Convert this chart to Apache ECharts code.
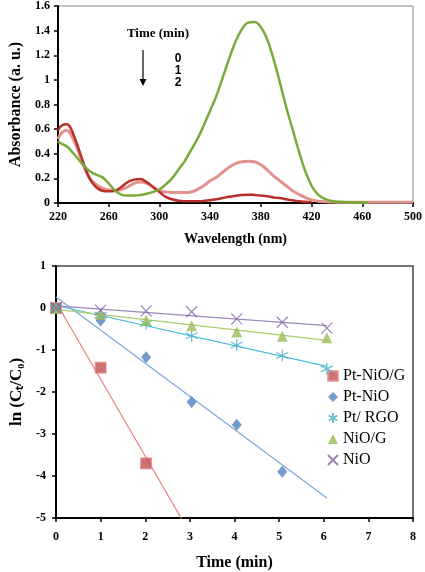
<!DOCTYPE html>
<html><head><meta charset="utf-8">
<script src="https://cdn.jsdelivr.net/npm/echarts@6/dist/echarts.min.js"></script>
<style>html,body{margin:0;padding:0;background:#fff}#c{width:425px;height:572px}</style>
</head><body><div id="c"></div>
<script>
// ---- Top panel: UV-vis spectra ----
const wavelengths = [220,223,227,230,235,240,245,250,255,260,265,270,275,280,285,290,295,300,305,310,315,320,325,330,335,340,345,350,355,360,365,370,375,380,385,390,395,400,405,410,415,420,425,430,435,440,450,465,480,500];
const abs0min = [0.50,0.48,0.46,0.43,0.37,0.31,0.26,0.23,0.21,0.16,0.10,0.068,0.06,0.06,0.065,0.075,0.09,0.11,0.15,0.20,0.27,0.34,0.43,0.52,0.63,0.75,0.87,1.02,1.17,1.31,1.41,1.465,1.47,1.43,1.33,1.17,0.98,0.78,0.60,0.42,0.26,0.14,0.07,0.035,0.018,0.01,0.006,0.005,null,null];
const abs1min = [0.52,0.57,0.59,0.56,0.45,0.31,0.20,0.15,0.12,0.105,0.10,0.11,0.13,0.16,0.17,0.16,0.13,0.10,0.09,0.085,0.085,0.085,0.09,0.11,0.14,0.18,0.21,0.25,0.29,0.32,0.335,0.34,0.335,0.31,0.27,0.22,0.18,0.14,0.10,0.07,0.045,0.025,0.015,0.01,0.008,0.007,0.006,0.006,0.006,0.006];
const abs2min = [0.59,0.63,0.64,0.61,0.48,0.33,0.20,0.13,0.10,0.095,0.10,0.13,0.17,0.19,0.195,0.17,0.13,0.09,0.05,0.03,0.018,0.015,0.015,0.015,0.017,0.022,0.03,0.04,0.05,0.058,0.065,0.068,0.065,0.06,0.055,0.045,0.04,0.03,0.022,0.015,0.01,0.006,null,null,null,null,null,null,null,null];
const timeLabels = ['0','1','2'];

// ---- Bottom panel: kinetics ----
const seriesNames = ['Pt-NiO/G','Pt-NiO','Pt/ RGO','NiO/G','NiO'];
const timesRed = [0,1,2.02];
const lnRed = [0,-1.42,-3.7];
const timesAll = [0,1,2.02,3.04,4.05,5.07,6.07];
const lnBlue = [0,-0.3,-1.17,-2.24,-2.78,-3.9];
const lnCyan = [0,-0.17,-0.37,-0.66,-0.88,-1.13,-1.45];
const lnGreen = [0,-0.15,-0.29,-0.42,-0.57,-0.67,-0.71];
const lnPurple = [0,-0.05,-0.07,-0.09,-0.26,-0.34,-0.48];
const trendStart = 0, trendEnd = 6.07;

function pairs(xs, ys){ return ys.map((y,i)=>[xs[i], y]); }
function fit(xs, ys){
  const n = ys.length; let sx=0,sy=0,sxx=0,sxy=0;
  for(let i=0;i<n;i++){sx+=xs[i];sy+=ys[i];sxx+=xs[i]*xs[i];sxy+=xs[i]*ys[i];}
  const b=(n*sxy-sx*sy)/(n*sxx-sx*sx), a=(sy-b*sx)/n;
  return [[trendStart, a+b*trendStart],[trendEnd, a+b*trendEnd]];
}

const serif = 'Liberation Serif';
const starPath = 'path://M0,-10L0,10M-8.66,-5L8.66,5M-8.66,5L8.66,-5';
const xPath = 'path://M-8,-8L8,8M-8,8L8,-8';

const chart = echarts.init(document.getElementById('c'), null, {renderer:'canvas'});
const axisLbl = {fontFamily: serif, fontWeight:'bold', fontSize:12, color:'#000'};
const axisLineS = {show:true, onZero:false, lineStyle:{color:'#000', width:2}};
const tickS = {show:true, inside:false, length:4, lineStyle:{color:'#000', width:1.5}};

const spec = (data, color, w) => ({
  type:'line', xAxisIndex:0, yAxisIndex:0, smooth:0.4, showSymbol:false, symbol:'none',
  data: pairs(wavelengths, data), connectNulls:false,
  lineStyle:{color, width:w}, itemStyle:{color}, z:3, silent:true
});
const trend = (xs, ys, color) => ({
  type:'line', xAxisIndex:1, yAxisIndex:1, data: fit(xs, ys), showSymbol:false, symbol:'none',
  lineStyle:{color, width:1.2}, clip:true, z:2, silent:true
});

chart.setOption({
  animation:false,
  grid:[
    {left:49, right:9, top:6, bottom:369, show:true, borderColor:'#888', borderWidth:1, backgroundColor:'transparent'},
    {left:48, right:12, top:266, bottom:49, show:true, borderColor:'#444', borderWidth:1.5, backgroundColor:'transparent'}
  ],
  xAxis:[
    {type:'value', gridIndex:0, min:220, max:500, interval:40, splitLine:{show:false},
     axisLine:axisLineS, axisTick:tickS, axisLabel:Object.assign({margin:8}, axisLbl),
     name:'Wavelength (nm)', nameLocation:'middle', nameGap:29,
     nameTextStyle:{fontFamily:serif, fontWeight:'bold', fontSize:14, color:'#000'}},
    {type:'value', gridIndex:1, min:0, max:8, interval:1, splitLine:{show:false},
     axisLine:axisLineS, axisTick:tickS, axisLabel:Object.assign({margin:13}, axisLbl),
     name:'Time (min)', nameLocation:'middle', nameGap:37,
     nameTextStyle:{fontFamily:serif, fontWeight:'bold', fontSize:16, color:'#000'}}
  ],
  yAxis:[
    {type:'value', gridIndex:0, min:0, max:1.6, interval:0.2, splitLine:{show:false},
     axisLine:axisLineS, axisTick:tickS, axisLabel:Object.assign({margin:8}, axisLbl),
     name:'Absorbance (a. u.)', nameLocation:'middle', nameGap:33,
     nameTextStyle:{fontFamily:serif, fontWeight:'bold', fontSize:16, color:'#000'}},
    {type:'value', gridIndex:1, min:-5, max:1, interval:1, splitLine:{show:false},
     axisLine:axisLineS, axisTick:tickS, axisLabel:Object.assign({margin:10}, axisLbl),
     name:'ln (C\u209c/C\u2080)', nameLocation:'middle', nameGap:31,
     nameTextStyle:{fontFamily:serif, fontWeight:'bold', fontSize:17, color:'#000'}}
  ],
  legend:{
    data: seriesNames, orient:'vertical', left:322, top:363, itemGap:5,
    itemWidth:10, itemHeight:10, textStyle:{fontFamily:serif, fontSize:16, color:'#000'},
    selectedMode:false
  },
  graphic:[
    {type:'text', style:{text:'Time (min)', x:158, y:34, font:'bold 13px "Liberation Serif"', fill:'#000', align:'center', verticalAlign:'middle'}},
    {type:'line', shape:{x1:143, y1:50, x2:143, y2:80}, style:{stroke:'#000', lineWidth:1.2}},
    {type:'polygon', shape:{points:[[139.5,79],[146.5,79],[143,86]]}, style:{fill:'#000'}},
    {type:'text', style:{text:timeLabels[0], x:178, y:59, font:'bold 12px "Liberation Sans"', fill:'#000', align:'center', verticalAlign:'middle'}},
    {type:'text', style:{text:timeLabels[1], x:178, y:71, font:'bold 12px "Liberation Sans"', fill:'#000', align:'center', verticalAlign:'middle'}},
    {type:'text', style:{text:timeLabels[2], x:178, y:83, font:'bold 12px "Liberation Sans"', fill:'#000', align:'center', verticalAlign:'middle'}}
  ],
  series:[
    spec(abs1min, '#e3918d', 3),
    spec(abs2min, '#b8302a', 2.5),
    spec(abs0min, '#79ab3a', 2.5),
    trend(timesRed, lnRed, '#e8827c'),
    trend(timesAll.slice(0,6), lnBlue, '#7aa7db'),
    trend(timesAll, lnCyan, '#49bcd6'),
    trend(timesAll, lnGreen, '#a9cc6c'),
    trend(timesAll, lnPurple, '#9d88bf'),
    {name:seriesNames[0], type:'scatter', xAxisIndex:1, yAxisIndex:1, data:pairs(timesRed, lnRed),
     symbol:'rect', symbolSize:11, itemStyle:{color:'#c0504d', borderColor:'#e59a97', borderWidth:1}, z:5},
    {name:seriesNames[1], type:'scatter', xAxisIndex:1, yAxisIndex:1, data:pairs(timesAll, lnBlue),
     symbol:'diamond', symbolSize:[10,12], itemStyle:{color:'#4f81bd'}, z:5},
    {name:seriesNames[2], type:'scatter', xAxisIndex:1, yAxisIndex:1, data:pairs(timesAll, lnCyan),
     symbol:starPath, symbolSize:12, itemStyle:{color:'rgba(0,0,0,0)', borderColor:'#4bacc6', borderWidth:1.3}, z:5},
    {name:seriesNames[3], type:'scatter', xAxisIndex:1, yAxisIndex:1, data:pairs(timesAll, lnGreen),
     symbol:'triangle', symbolSize:[11,11], itemStyle:{color:'#9bbb59'}, z:5},
    {name:seriesNames[4], type:'scatter', xAxisIndex:1, yAxisIndex:1, data:pairs(timesAll, lnPurple),
     symbol:xPath, symbolSize:11, itemStyle:{color:'rgba(0,0,0,0)', borderColor:'#8064a2', borderWidth:1.2}, z:5}
  ]
});
</script></body></html>
